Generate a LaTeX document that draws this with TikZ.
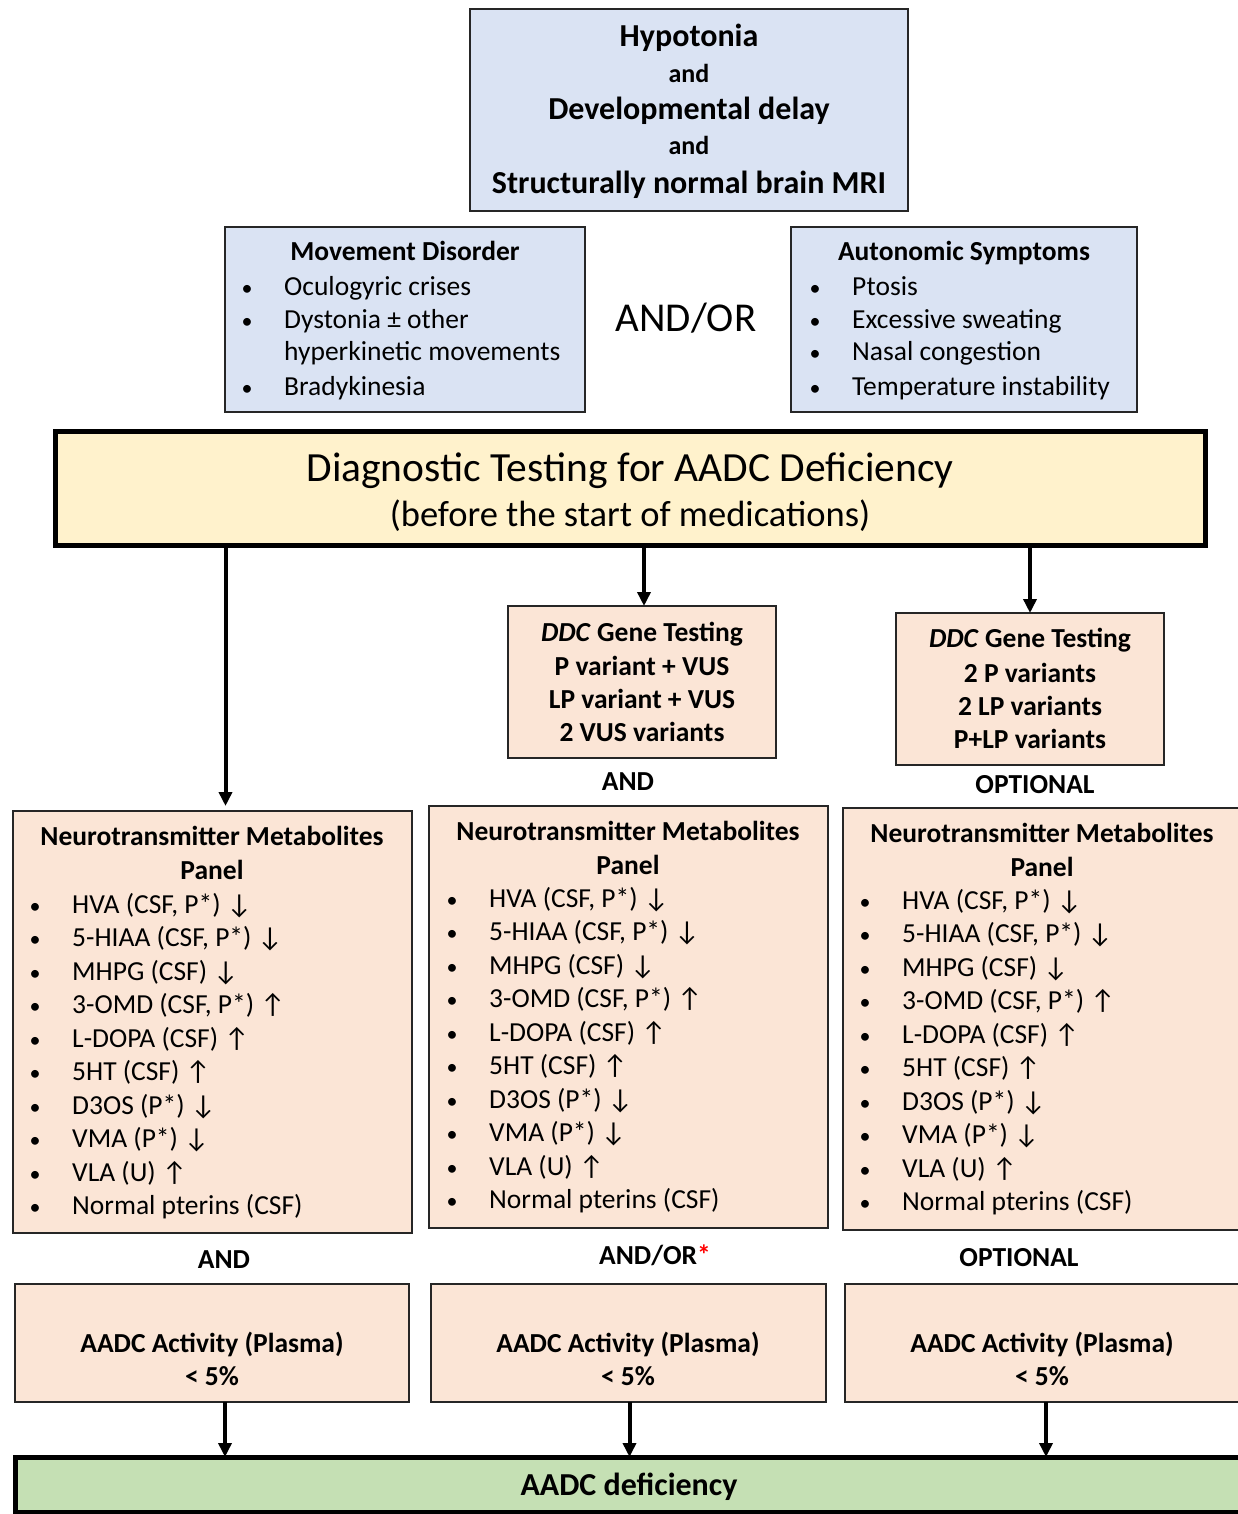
\documentclass[tikz,border=0pt]{standalone}
\usepackage{fontspec}
\setmainfont{Carlito}
\usetikzlibrary{arrows.meta}
\definecolor{bluef}{HTML}{DAE3F3}
\definecolor{pinkf}{HTML}{FBE5D6}
\definecolor{yellf}{HTML}{FFF2CC}
\definecolor{greenf}{HTML}{C5E0B4}
\definecolor{edgec}{HTML}{262626}
\newcommand\fs[1]{\fontsize{#1}{#1}\selectfont}
\newcommand\dn{↓}
\newcommand\up{↑}
\newcommand\bul{\makebox[44pt][l]{\hspace{1.5pt}{\fs{22}•}}}
\newcommand\mkbox[6]{\node[#6, minimum width={(#4)-(#2)}, minimum height={(#5)-(#3)}] (#1) at ({((#2)+(#4))/2},{((#3)+(#5))/2}) {};}
\newcommand\metitems{{HVA (CSF, P*) \dn},{5-HIAA (CSF, P*) \dn},{MHPG (CSF) \dn},{3-OMD (CSF, P*) \up},{L-DOPA (CSF) \up},{5HT (CSF) \up},{D3OS (P*) \dn},{VMA (P*) \dn},{VLA (U) \up},{Normal pterins (CSF)}}
\begin{document}
\begin{tikzpicture}[x=1pt,y=-1pt,
  box/.style={draw=edgec, line width=2.5pt, rectangle, inner sep=0pt, outer sep=0pt},
  heavybox/.style={draw=black, line width=5pt, rectangle, inner sep=0pt, outer sep=0pt},
  txt/.style={anchor=base, inner sep=0pt, font=\fs{27.5}},
  btxt/.style={anchor=base, inner sep=0pt, font=\fs{27.5}\bfseries},
  lst/.style={anchor=base west, inner sep=0pt, font=\fs{27.5}},
  arr/.style={line width=4pt, -{Triangle[width=13pt,length=14pt]}}]
\clip (0,0) rectangle (1238,1514);
\fill[white] (0,0) rectangle (1238,1514);

% ---------- boxes ----------
\mkbox{top}{470}{9}{908}{211}{box, fill=bluef}
\mkbox{mov}{225}{227}{585}{412}{box, fill=bluef}
\mkbox{aut}{791}{227}{1137}{412}{box, fill=bluef}
\mkbox{diag}{55}{431}{1205}{545}{heavybox, fill=yellf}
\mkbox{ddcM}{508}{606}{776}{758}{box, fill=pinkf}
\mkbox{ddcR}{896}{613}{1164}{765}{box, fill=pinkf}
\mkbox{metL}{13}{811}{412}{1233}{box, fill=pinkf}
\mkbox{metM}{429}{806}{828}{1228}{box, fill=pinkf}
\mkbox{metR}{843}{808}{1245}{1230}{box, fill=pinkf}
\mkbox{actL}{15}{1284}{409}{1402}{box, fill=pinkf}
\mkbox{actM}{431}{1284}{826}{1402}{box, fill=pinkf}
\mkbox{actR}{845}{1284}{1245}{1402}{box, fill=pinkf}
\mkbox{green}{15}{1457}{1245}{1512}{heavybox, fill=greenf}

% ---------- top box text ----------
\node[anchor=base, inner sep=0pt, font=\fs{32}\bfseries] (t1) at (689,47) {Hypotonia};
\node[anchor=base, inner sep=0pt, font=\fs{26}\bfseries] (t2) at (689,83) {and};
\node[anchor=base, inner sep=0pt, font=\fs{32}\bfseries] (t3) at (689,120) {Developmental delay};
\node[anchor=base, inner sep=0pt, font=\fs{26}\bfseries] (t4) at (689,155) {and};
\node[anchor=base, inner sep=0pt, font=\fs{32}\bfseries] (t5) at (689,194) {Structurally normal brain MRI};

% ---------- movement disorder ----------
\node[btxt] (movT) at (405,261) {Movement Disorder};
\node[lst] (mov1) at (240,295) {\bul Oculogyric crises};
\node[lst] (mov2) at (240,328) {\bul Dystonia ± other};
\node[lst] (mov3) at (284,360) {hyperkinetic movements};
\node[lst] (mov4) at (240,395) {\bul Bradykinesia};

\node[anchor=base, inner sep=0pt, font=\fs{41}] (andor) at (686,331) {AND/OR};

% ---------- autonomic ----------
\node[btxt] (autT) at (964,261) {Autonomic Symptoms};
\node[lst] (aut1) at (808,295) {\bul Ptosis};
\node[lst] (aut2) at (808,328) {\bul Excessive sweating};
\node[lst] (aut3) at (808,360) {\bul Nasal congestion};
\node[lst] (aut4) at (808,395) {\bul Temperature instability};

% ---------- diagnostic ----------
\node[anchor=base, inner sep=0pt, font=\fs{41.5}] (diag1) at (630,481) {Diagnostic Testing for AADC Deficiency};
\node[anchor=base, inner sep=0pt, font=\fs{36.5}] (diag2) at (630,526) {(before the start of medications)};

% ---------- DDC boxes ----------
\node[btxt] (dm1) at (642,641) {\textit{DDC} Gene Testing};
\node[btxt] (dm2) at (642,675) {P variant + VUS};
\node[btxt] (dm3) at (642,708) {LP variant + VUS};
\node[btxt] (dm4) at (642,741) {2 VUS variants};
\node[btxt] (dr1) at (1030,647) {\textit{DDC} Gene Testing};
\node[btxt] (dr2) at (1030,682) {2 P variants};
\node[btxt] (dr3) at (1030,715) {2 LP variants};
\node[btxt] (dr4) at (1030,748) {P+LP variants};
\node[btxt] (lblAnd1) at (628,790) {AND};
\node[btxt] (lblOpt1) at (1035,793) {OPTIONAL};

% ---------- metabolite panels ----------
\node[btxt] (mLt1) at (212,845) {Neurotransmitter Metabolites};
\node[btxt] (mLt2) at (212,879) {Panel};
\foreach \t [count=\i] in \metitems {\node[lst] (mL\i) at (28,{913+(\i-1)*33.5}) {\bul\t};}
\node[btxt] (mMt1) at (628,840) {Neurotransmitter Metabolites};
\node[btxt] (mMt2) at (628,874) {Panel};
\foreach \t [count=\i] in \metitems {\node[lst] (mM\i) at (445,{907+(\i-1)*33.5}) {\bul\t};}
\node[btxt] (mRt1) at (1042,842) {Neurotransmitter Metabolites};
\node[btxt] (mRt2) at (1042,876) {Panel};
\foreach \t [count=\i] in \metitems {\node[lst] (mR\i) at (858,{909+(\i-1)*33.5}) {\bul\t};}

% ---------- labels between ----------
\node[btxt] (lblAnd2) at (224,1268) {AND};
\node[btxt] (lblAndOr) at (655,1264) {AND/OR\textcolor{red}{*}};
\node[btxt] (lblOpt2) at (1019,1266) {OPTIONAL};

% ---------- activity ----------
\node[btxt] (aL1) at (212,1352) {AADC Activity (Plasma)};
\node[btxt] (aL2) at (212,1385) {< 5\%};
\node[btxt] (aM1) at (628,1352) {AADC Activity (Plasma)};
\node[btxt] (aM2) at (628,1385) {< 5\%};
\node[btxt] (aR1) at (1042,1352) {AADC Activity (Plasma)};
\node[btxt] (aR2) at (1042,1385) {< 5\%};

\node[anchor=base, inner sep=0pt, font=\fs{32}\bfseries] (gT) at (629,1495) {AADC deficiency};

% ---------- arrows ----------
\draw[arr] ([xshift=13pt]metL.north |- diag.south) -- ([xshift=13pt,yshift=5pt]metL.north);
\draw[arr] ([xshift=2pt]ddcM.north |- diag.south) -- ([xshift=2pt]ddcM.north);
\draw[arr] (ddcR.north |- diag.south) -- (ddcR.north);
\draw[arr] ([xshift=13pt]actL.south) -- ([xshift=13pt]actL.south |- green.north);
\draw[arr] ([xshift=1pt]actM.south) -- ([xshift=1pt]actM.south |- green.north);
\draw[arr] ([xshift=1pt]actR.south) -- ([xshift=1pt]actR.south |- green.north);
\end{tikzpicture}
\end{document}
